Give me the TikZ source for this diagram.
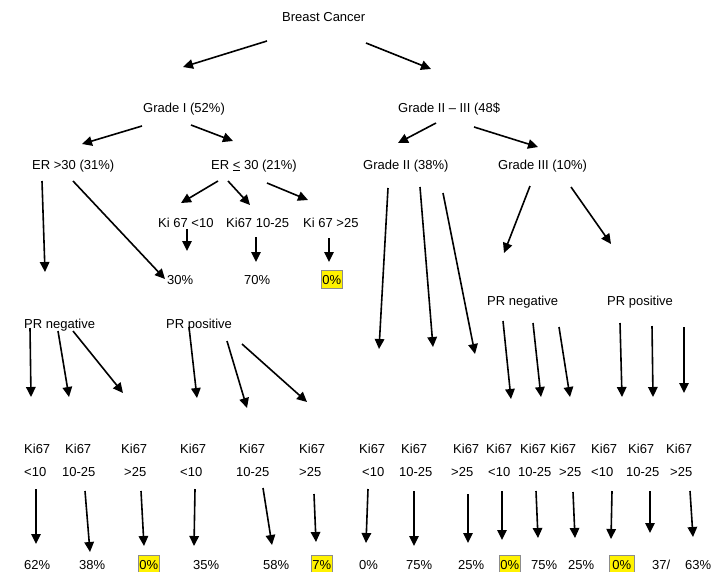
\documentclass[tikz,border=0pt]{standalone}
\usepackage{fontspec}
\setmainfont{Liberation Sans}
\usetikzlibrary{arrows.meta}
\tikzset{
	lbl/.style={anchor=base west, inner sep=0pt, font=\fontsize{13}{15}\selectfont},
	hl/.style={lbl, fill=yellow, draw=black!45, line width=0.6pt, inner xsep=1pt, inner ysep=4pt, text height=9.5pt, text depth=0pt},
	arr/.style={line width=1.6pt, -{Triangle[length=10pt,width=9.5pt]}}
}

\begin{document}
\begin{tikzpicture}[x=1pt, y=-1pt]
			%%%%% START %%%%%
			
			\useasboundingbox (0, 0) rectangle (719, 571);
			
			\node[lbl] (bc) at (282, 21) {Breast Cancer};
			\draw[arr] (267, 41) -- (183, 67);
			\draw[arr] (366, 43) -- (431, 69);
			
			\node[lbl] (gradeI) at (143, 112) {Grade I (52\%)};
			\node[lbl] (gradeIIIII) at (398, 112) {Grade II – III (48\$};
			\draw[arr] (142, 126) -- (82, 144);
			\draw[arr] (191, 125) -- (233, 141);
			\draw[arr] (436, 123) -- (398, 143);
			\draw[arr] (474, 127) -- (538, 147);
			
			\node[lbl] (erhigh) at (32, 169) {ER >30 (31\%)};
			\node[lbl] (erlow) at (211, 169) {ER \underline{<} 30 (21\%)};
			\node[lbl] (gradeII) at (363, 169) {Grade II (38\%)};
			\node[lbl] (gradeIII) at (498, 169) {Grade III (10\%)};
			
			\draw[arr] (42, 181) -- (45, 272);
			\draw[arr] (73, 181) -- (165, 279);
			\draw[arr] (218, 181) -- (181, 203);
			\draw[arr] (228, 181) -- (250, 205);
			\draw[arr] (267, 183) -- (308, 200);
			
			\node[lbl] (kilow) at (158, 227) {Ki 67 <10};
			\node[lbl] (kimid) at (226, 227) {Ki67 10-25};
			\node[lbl] (kihigh) at (303, 227) {Ki 67 >25};
			\draw[arr] (187, 229) -- (187, 251);
			\draw[arr] (256, 237) -- (256, 262);
			\draw[arr] (329, 238) -- (329, 262);
			\node[lbl] (erpa) at (167, 284) {30\%};
			\node[lbl] (erpb) at (244, 284) {70\%};
			\node[hl] (erpc) at (321, 284) {0\%};
			
			\draw[arr] (388, 188) -- (379, 349);
			\draw[arr] (420, 187) -- (433, 347);
			\draw[arr] (443, 193) -- (475, 354);
			\draw[arr] (530, 186) -- (504, 253);
			\draw[arr] (571, 187) -- (611, 244);
			
			\node[lbl] (prnegA) at (24, 328) {PR negative};
			\node[lbl] (prposA) at (166, 328) {PR positive};
			\node[lbl] (prnegB) at (487, 305) {PR negative};
			\node[lbl] (prposB) at (607, 305) {PR positive};
			
			\draw[arr] (30, 328) -- (31, 397);
			\draw[arr] (58, 331) -- (69, 397);
			\draw[arr] (73, 331) -- (123, 393);
			\draw[arr] (189, 327) -- (197, 398);
			\draw[arr] (227, 341) -- (247, 408);
			\draw[arr] (242, 344) -- (307, 402);
			\draw[arr] (503, 321) -- (511, 399);
			\draw[arr] (533, 323) -- (541, 397);
			\draw[arr] (559, 327) -- (570, 397);
			\draw[arr] (620, 323) -- (622, 397);
			\draw[arr] (652, 326) -- (653, 397);
			\draw[arr] (684, 327) -- (684, 393);
			
			%% Ki67 columns
			\node[lbl] (kA) at (24, 453) {Ki67};   \node[lbl] (cA) at (24, 476) {<10};
			\node[lbl] (kB) at (65, 453) {Ki67};   \node[lbl] (cB) at (62, 476) {10-25};
			\node[lbl] (kC) at (121, 453) {Ki67};  \node[lbl] (cC) at (124, 476) {>25};
			\node[lbl] (kD) at (180, 453) {Ki67};  \node[lbl] (cD) at (180, 476) {<10};
			\node[lbl] (kE) at (239, 453) {Ki67};  \node[lbl] (cE) at (236, 476) {10-25};
			\node[lbl] (kF) at (299, 453) {Ki67};  \node[lbl] (cF) at (299, 476) {>25};
			\node[lbl] (kG) at (359, 453) {Ki67};  \node[lbl] (cG) at (362, 476) {<10};
			\node[lbl] (kH) at (401, 453) {Ki67};  \node[lbl] (cH) at (399, 476) {10-25};
			\node[lbl] (kI) at (453, 453) {Ki67};  \node[lbl] (cI) at (451, 476) {>25};
			\node[lbl] (kJ) at (486, 453) {Ki67};  \node[lbl] (cJ) at (488, 476) {<10};
			\node[lbl] (kK) at (520, 453) {Ki67};  \node[lbl] (cK) at (518, 476) {10-25};
			\node[lbl] (kL) at (550, 453) {Ki67};  \node[lbl] (cL) at (559, 476) {>25};
			\node[lbl] (kM) at (591, 453) {Ki67};  \node[lbl] (cM) at (591, 476) {<10};
			\node[lbl] (kN) at (628, 453) {Ki67};  \node[lbl] (cN) at (626, 476) {10-25};
			\node[lbl] (kO) at (666, 453) {Ki67};  \node[lbl] (cO) at (670, 476) {>25};
			
			\draw[arr] (36, 489) -- (36, 544);
			\draw[arr] (85, 491) -- (90, 552);
			\draw[arr] (141, 491) -- (144, 546);
			\draw[arr] (195, 489) -- (194, 546);
			\draw[arr] (263, 488) -- (272, 545);
			\draw[arr] (314, 494) -- (316, 542);
			\draw[arr] (368, 489) -- (366, 543);
			\draw[arr] (414, 491) -- (414, 546);
			\draw[arr] (468, 494) -- (468, 543);
			\draw[arr] (502, 491) -- (502, 540);
			\draw[arr] (536, 491) -- (538, 538);
			\draw[arr] (573, 492) -- (575, 538);
			\draw[arr] (612, 491) -- (611, 539);
			\draw[arr] (650, 491) -- (650, 533);
			\draw[arr] (690, 491) -- (693, 537);
			
			%% results
			\node[lbl] (rA) at (24, 569) {62\%};
			\node[lbl] (rB) at (79, 569) {38\%};
			\node[hl] (rC) at (138, 569) {0\%};
			\node[lbl] (rD) at (193, 569) {35\%};
			\node[lbl] (rE) at (263, 569) {58\%};
			\node[hl] (rF) at (311, 569) {7\%};
			\node[lbl] (rG) at (359, 569) {0\%};
			\node[lbl] (rH) at (406, 569) {75\%};
			\node[lbl] (rI) at (458, 569) {25\%};
			\node[hl] (rJ) at (499, 569) {0\%};
			\node[lbl] (rK) at (531, 569) {75\%};
			\node[lbl] (rL) at (568, 569) {25\%};
			\node[hl, inner xsep=3pt] (rM) at (609, 569) {0\%};
			\node[lbl] (rN) at (652, 569) {37/};
			\node[lbl] (rO) at (685, 569) {63\%};
			
			%%%%% END %%%%%
		\end{tikzpicture}
\end{document}
